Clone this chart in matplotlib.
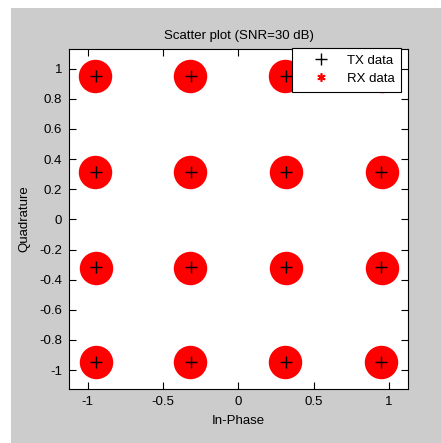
import matplotlib
matplotlib.use("Agg")
import matplotlib.pyplot as plt
from matplotlib.lines import Line2D
from matplotlib.patches import Rectangle

plt.rcParams['font.family'] = ['Liberation Sans', 'DejaVu Sans']

# 16-QAM transmitted symbols (in-phase, quadrature)
levels = [-0.949, -0.316, 0.316, 0.949]
tx_i = [i for q in levels for i in levels]
tx_q = [q for q in levels for i in levels]

# centres of the received clouds
rx_i = [-0.945, -0.320, 0.310, 0.945,
        -0.945, -0.320, 0.315, 0.950,
        -0.950, -0.320, 0.315, 0.950,
        -0.950, -0.320, 0.310, 0.950]
rx_q = [-0.945, -0.945, -0.945, -0.945,
        -0.320, -0.320, -0.320, -0.320,
        0.316, 0.316, 0.316, 0.316,
        0.949, 0.949, 0.949, 0.949]

xticks = [-1, -0.5, 0, 0.5, 1]
xticklabels = ['-1', '-0.5', '0', '0.5', '1']
yticks = [-1, -0.8, -0.6, -0.4, -0.2, 0, 0.2, 0.4, 0.6, 0.8, 1]
yticklabels = ['-1', '-0.8', '-0.6', '-0.4', '-0.2', '0', '0.2', '0.4', '0.6', '0.8', '1']

fig = plt.figure(figsize=(4.41, 4.43), dpi=100, facecolor='white')
fig.patches.append(Rectangle((11 / 441, 0), 1, 1 - 8 / 443, transform=fig.transFigure,
                             facecolor='#cccccc', edgecolor='none', zorder=-10))
ax = fig.add_axes([69 / 441, 54 / 443, 339 / 441, 340 / 443])

# received data clouds
ax.scatter(rx_i, rx_q, s=580, marker='o', color='red', linewidths=0, zorder=3)
ax.plot(tx_i, tx_q, '+', color='black', markersize=9, markeredgewidth=1, zorder=4)

ax.set_xlim(-1.125, 1.125)
ax.set_ylim(-1.125, 1.13)
ax.set_xticks(xticks)
ax.set_xticklabels(xticklabels)
ax.set_yticks(yticks)
ax.set_yticklabels(yticklabels)
ax.tick_params(direction='in', length=5, width=0.8, top=True, right=True,
               labelsize=9.5, pad=5)
for s in ax.spines.values():
    s.set_linewidth(0.8)

ax.set_title('Scatter plot (SNR=30 dB)', fontsize=9.5, pad=7)
ax.set_xlabel('In-Phase', fontsize=9.5, labelpad=5)
ax.set_ylabel('Quadrature', fontsize=9.5, labelpad=6)

handles = [Line2D([], [], linestyle='none', marker='+', color='black', markersize=8),
           Line2D([], [], linestyle='none', marker=(6, 2, 0), color='red',
                  markersize=6, markeredgewidth=1.2)]
leg = ax.legend(handles, ['TX data', 'RX data'], loc='upper right',
                bbox_to_anchor=(0.979, 1.003), borderaxespad=0, fontsize=9.5,
                fancybox=False, framealpha=1, edgecolor='black', handlelength=3.3,
                handletextpad=0.3, borderpad=0.5, labelspacing=0.45)
leg.get_frame().set_linewidth(0.8)
leg.set_zorder(10)

fig.savefig('out.png', dpi=100, facecolor=fig.get_facecolor())
